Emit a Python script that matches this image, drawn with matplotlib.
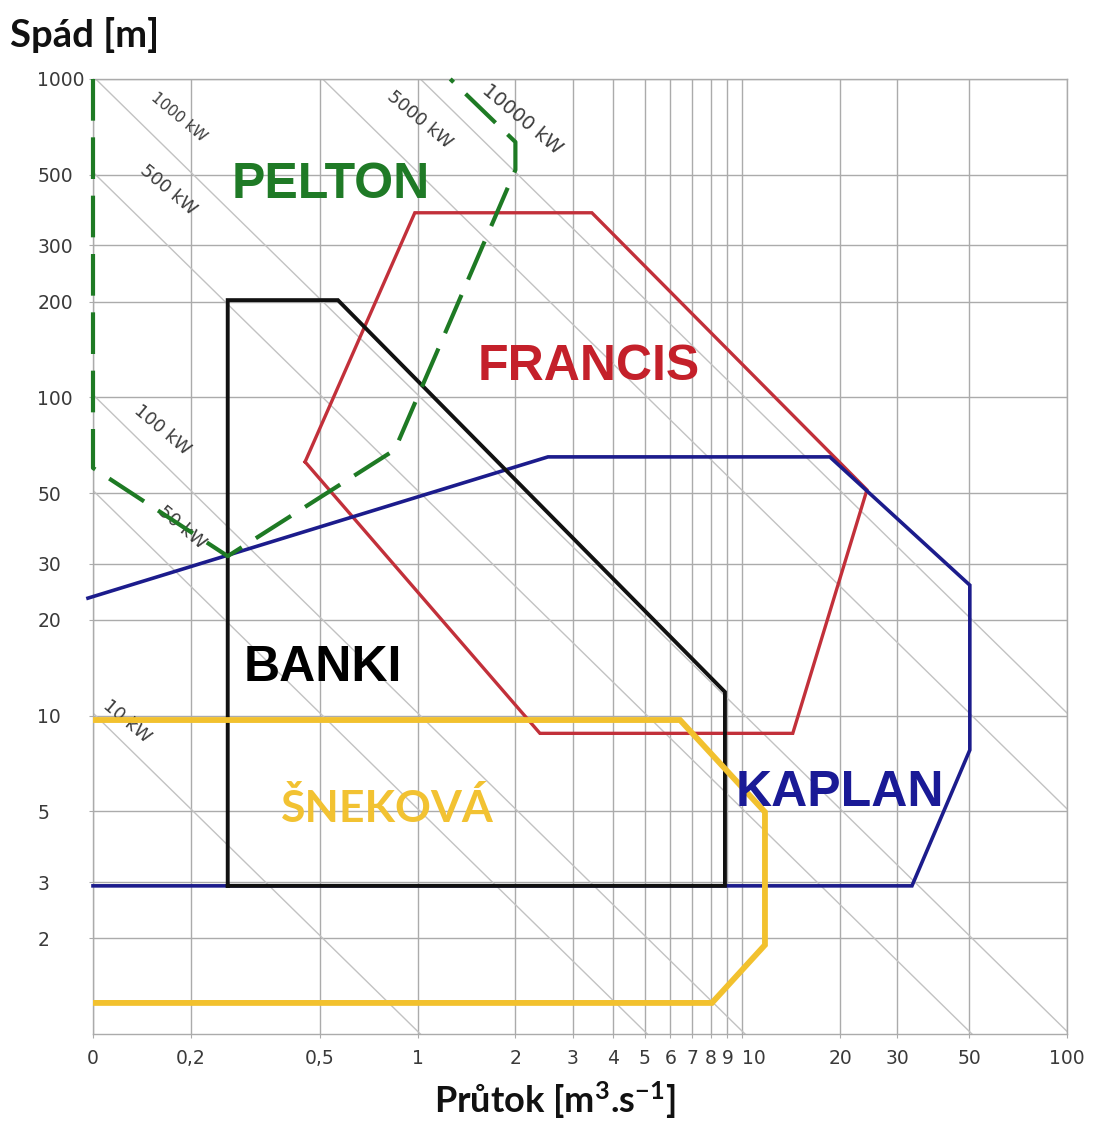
import matplotlib
matplotlib.use("Agg")
import matplotlib.pyplot as plt
from matplotlib.ticker import NullLocator, FixedLocator, FixedFormatter

# Application envelopes of small hydro turbines: flow Q [m3/s] vs. head H [m]
pelton_q = [0.1, 0.1, 0.26, 0.85, 2.0, 2.0, 1.26]
pelton_h = [1000, 60, 31.7, 68.4, 518, 634, 1000]

francis_q = [0.45, 0.98, 3.44, 24.2, 14.3, 2.38, 0.45]
francis_h = [62.7, 380, 380, 51.2, 8.8, 8.8, 62.7]

banki_q = [0.26, 0.26, 0.568, 8.84, 8.84, 0.26]
banki_h = [2.92, 202, 202, 11.87, 2.92, 2.92]

kaplan_q = [0.1, 33.3, 50.2, 50.2, 18.6, 2.52, 0.0965]
kaplan_h = [2.92, 2.92, 7.8, 25.7, 65.0, 65.0, 23.4]

snekova_q = [0.1, 6.43, 11.74, 11.74, 8.06, 0.1]
snekova_h = [9.69, 9.69, 4.98, 1.904, 1.252, 1.252]

# Lines of constant hydraulic power [kW]
power_kw = [10, 50, 100, 500, 1000, 5000, 10000]

x_ticks = [0.1, 0.2, 0.5, 1, 2, 3, 4, 5, 6, 7, 8, 9, 10, 20, 30, 50, 100]
x_tick_labels = ["0", "0,2", "0,5", "1", "2", "3", "4", "5", "6", "7", "8",
                 "9", "10", "20", "30", "50", "100"]
y_ticks = [2, 3, 5, 10, 20, 30, 50, 100, 200, 300, 500, 1000]
y_tick_labels = ["2", "3", "5", "10", "20", "30", "50", "100", "200", "300",
                 "500", "1000"]

plt.rcParams["mathtext.fontset"] = "custom"
plt.rcParams["mathtext.rm"] = "Lato"
plt.rcParams["mathtext.bf"] = "Lato:bold"
plt.rcParams["mathtext.it"] = "Lato:italic"

W, H = 1096, 1122
fig = plt.figure(figsize=(W / 100, H / 100), dpi=100)
fig.patch.set_facecolor("white")
ax = fig.add_axes([93 / W, 88 / H, (1067 - 93) / W, (1034 - 79) / H])
ax.set_xscale("log")
ax.set_yscale("log")
ax.set_xlim(0.1, 100)
ax.set_ylim(1, 1000)

grid_col = "#ababab"
ax.xaxis.set_major_locator(FixedLocator(x_ticks))
ax.xaxis.set_major_formatter(FixedFormatter(x_tick_labels))
ax.yaxis.set_major_locator(FixedLocator(y_ticks))
ax.yaxis.set_major_formatter(FixedFormatter(y_tick_labels))
ax.xaxis.set_minor_locator(NullLocator())
ax.yaxis.set_minor_locator(NullLocator())
ax.grid(True, which="major", color=grid_col, lw=1.0, zorder=0)
ax.set_axisbelow(True)
for s in ax.spines.values():
    s.set_color(grid_col)
    s.set_linewidth(1.0)
ax.tick_params(axis="both", length=3, width=0.8, color=grid_col,
               labelcolor="#3a3a3a", labelsize=13.5)
ax.tick_params(axis="x", pad=8)
ax.tick_params(axis="y", pad=37)
for lbl in ax.get_yticklabels():
    lbl.set_horizontalalignment("left")
# the crowded "9" / "10" pair: let "10" start at its grid line
xlabels = ax.get_xticklabels()
xlabels[x_tick_labels.index("10")].set_horizontalalignment("left")
xlabels[x_tick_labels.index("9")].set_horizontalalignment("center")

# iso-power lines  H = P / (g * Q)
q_line = [0.05, 200]
for p in power_kw:
    ax.plot(q_line, [p / (9.81 * q) for q in q_line], color="#c2c2c2",
            lw=1.0, zorder=1)

power_labels = [
    ("10 kW", 0.127, 9.6, 13),
    ("50 kW", 0.188, 39, 13),
    ("100 kW", 0.163, 79, 13),
    ("500 kW", 0.170, 448, 13),
    ("1000 kW", 0.183, 760, 11),
    ("5000 kW", 1.016, 744, 13),
    ("10000 kW", 2.095, 749, 14),
]
for txt, xq, yh, fs in power_labels:
    ax.text(xq, yh, txt, rotation=-40, rotation_mode="anchor", ha="center",
            va="center", fontsize=fs, color="#3c3c3c",
            family="DejaVu Sans", zorder=2)

# turbine envelopes
ax.plot(francis_q, francis_h, color="#c2303a", lw=2.4, zorder=3,
        solid_joinstyle="miter")
ax.plot(kaplan_q, kaplan_h, color="#1c1c8c", lw=2.6, zorder=4,
        solid_joinstyle="miter", clip_on=False)
ax.plot(banki_q, banki_h, color="#111111", lw=2.8, zorder=5,
        solid_joinstyle="miter")
ax.plot(snekova_q, snekova_h, color="#f2c12e", lw=4.2, zorder=6,
        solid_joinstyle="miter")
ax.plot(pelton_q, pelton_h, color="#1e7a24", lw=3.0, zorder=7,
        dashes=(10, 4), clip_on=False)

# turbine names
name_kw = dict(ha="center", va="center", fontsize=36, fontweight="bold",
               family="Liberation Sans", zorder=8)
ax.text(0.541, 465, "PELTON", color="#1f7a26", **name_kw)
ax.text(3.37, 124.6, "FRANCIS", color="#c4202a", **name_kw)
ax.text(0.511, 14.1, "BANKI", color="#000000", **name_kw)
ax.text(20.0, 5.72, "KAPLAN", color="#1a1a96", **name_kw)
ax.text(0.804, 5.1, "ŠNEKOVÁ", color="#f2c232", ha="center", va="center",
        fontsize=32, fontweight="bold", family="Lato", zorder=8)

# axis titles
fig.text(10 / W, 1 - 35 / H, "Spád [m]", ha="left", va="center",
         fontsize=27.5, fontweight="bold", family="Lato", color="#111111")
fig.text(555 / W, 1 - 1100 / H, r"Průtok [m$^\mathbf{3}$.s$^\mathbf{-1}$]",
         ha="center", va="center", fontsize=26, fontweight="bold",
         family="Lato", color="#111111")

fig.savefig("out.png", dpi=100, facecolor="white")
